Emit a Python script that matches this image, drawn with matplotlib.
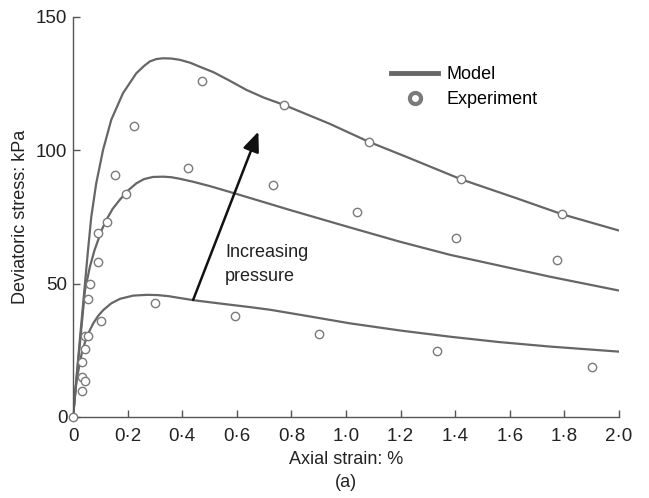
import matplotlib
matplotlib.use("Agg")
import matplotlib.pyplot as plt
from matplotlib.lines import Line2D

plt.rcParams['font.family'] = ['Liberation Sans', 'DejaVu Sans']

# model curves (axial strain %, deviatoric stress kPa)
model_hi_x = [0, 0.026, 0.055, 0.067, 0.085, 0.110, 0.140, 0.183, 0.232, 0.26, 0.281, 0.305,
              0.330, 0.36, 0.392, 0.43, 0.465, 0.514, 0.57, 0.636, 0.70, 0.773, 0.941, 1.083,
              1.222, 1.422, 1.625, 1.792, 2.0]
model_hi_y = [0, 30, 62.6, 75.1, 87.6, 100.1, 111.4, 121.4, 128.9, 131.6, 133.3, 134.2,
              134.5, 134.4, 133.9, 132.8, 131.3, 129.3, 126.3, 122.6, 119.7, 117.0, 109.9, 103.2,
              97.5, 89.1, 82.0, 76.0, 69.9]

model_mid_x = [0, 0.02, 0.044, 0.062, 0.079, 0.105, 0.122, 0.145, 0.171, 0.2, 0.232, 0.26,
               0.293, 0.33, 0.36, 0.392, 0.44, 0.5, 0.587, 0.795, 1.003, 1.198, 1.381, 1.573,
               1.747, 2.0]
model_mid_y = [0, 22, 47.6, 56.4, 62.6, 70.1, 73.9, 78.0, 81.4, 84.8, 87.6, 89.2,
               90.0, 90.1, 89.9, 89.3, 88.2, 86.6, 84.0, 77.6, 71.4, 65.7, 60.8, 56.5,
               52.6, 47.4]

model_lo_x = [0, 0.013, 0.032, 0.05, 0.074, 0.092, 0.111, 0.14, 0.172, 0.22, 0.27, 0.31,
              0.35, 0.44, 0.55, 0.648, 0.722, 0.85, 1.015, 1.2, 1.381, 1.56, 1.747, 2.0]
model_lo_y = [0, 13.9, 23.9, 30.1, 35.1, 37.9, 40.1, 42.6, 44.3, 45.5, 45.8, 45.7,
              45.3, 43.8, 42.4, 41.2, 40.2, 38.0, 35.1, 32.4, 30.1, 28.1, 26.4, 24.5]

# experiment points
exp_hi_x = [0, 0.044, 0.062, 0.093, 0.153, 0.223, 0.473, 0.773, 1.083, 1.422, 1.792]
exp_hi_y = [0, 30.4, 49.8, 68.9, 90.6, 109.0, 126.0, 117.0, 103.0, 89.1, 76.1]

exp_mid_x = [0.033, 0.044, 0.054, 0.093, 0.123, 0.193, 0.422, 0.731, 1.041, 1.403, 1.773]
exp_mid_y = [15.1, 25.4, 44.1, 58.0, 73.0, 83.5, 93.4, 87.1, 76.9, 67.1, 58.8]

exp_lo_x = [0.032, 0.034, 0.044, 0.055, 0.101, 0.30, 0.593, 0.902, 1.333, 1.902]
exp_lo_y = [9.9, 20.5, 13.5, 30.5, 35.9, 42.9, 37.9, 31.2, 24.6, 18.6]

xticks = [0, 0.2, 0.4, 0.6, 0.8, 1.0, 1.2, 1.4, 1.6, 1.8, 2.0]
xticklabels = ['0', '0·2', '0·4', '0·6', '0·8', '1·0', '1·2', '1·4', '1·6', '1·8', '2·0']
yticks = [0, 50, 100, 150]

line_col = '#666666'
pt_col = '#7a7a7a'
axis_col = '#555555'
txt_col = '#222222'
fs = 13

fig = plt.figure(figsize=(6.49, 4.98), dpi=100)
ax = fig.add_axes([0.1125, 0.1627, 0.8413, 0.8033])

for mx, my in [(model_hi_x, model_hi_y), (model_mid_x, model_mid_y), (model_lo_x, model_lo_y)]:
    ax.plot(mx, my, color=line_col, lw=1.6, solid_capstyle='round', solid_joinstyle='round', zorder=2)

for ex, ey in [(exp_hi_x, exp_hi_y), (exp_mid_x, exp_mid_y), (exp_lo_x, exp_lo_y)]:
    ax.plot(ex, ey, 'o', ms=6, mfc='white', mec=pt_col, mew=1.0, zorder=3, clip_on=False)

# arrow
ax.annotate('', xy=(0.679, 107), xytext=(0.44, 43.9),
            arrowprops=dict(arrowstyle='-|>,head_length=1.2,head_width=0.5',
                            color='#111111', lw=1.8, shrinkA=0, shrinkB=0))
ax.text(0.557, 49.5, 'Increasing\npressure', fontsize=fs, color=txt_col,
        ha='left', va='bottom', linespacing=1.5)

# legend
handles = [Line2D([], [], color=line_col, lw=3.5),
           Line2D([], [], ls='none', marker='o', ms=8, mfc='white', mec=pt_col, mew=3)]
ax.legend(handles, ['Model', 'Experiment'], loc='upper left', bbox_to_anchor=(0.583, 0.877),
          frameon=False, fontsize=fs, handlelength=2.6, handletextpad=0.45,
          labelspacing=0.45, borderpad=0, borderaxespad=0)

ax.set_xlim(0, 2.0)
ax.set_ylim(0, 150)
ax.set_xticks(xticks)
ax.set_xticklabels(xticklabels)
ax.set_yticks(yticks)
ax.tick_params(direction='in', length=5, width=1, color=axis_col, labelsize=13.5,
               labelcolor=txt_col, pad=4)
ax.tick_params(axis='x', pad=8)
for s in ['top', 'right']:
    ax.spines[s].set_visible(False)
for s in ['left', 'bottom']:
    ax.spines[s].set_color(axis_col)
    ax.spines[s].set_linewidth(1.0)

ax.set_xlabel('Axial strain: %', fontsize=fs, color=txt_col, labelpad=4)
ax.set_ylabel('Deviatoric stress: kPa', fontsize=fs, color=txt_col, labelpad=5)
fig.text(0.533, 0.032, '(a)', fontsize=fs, color=txt_col, ha='center', va='center')

fig.savefig('out.png', dpi=100)
